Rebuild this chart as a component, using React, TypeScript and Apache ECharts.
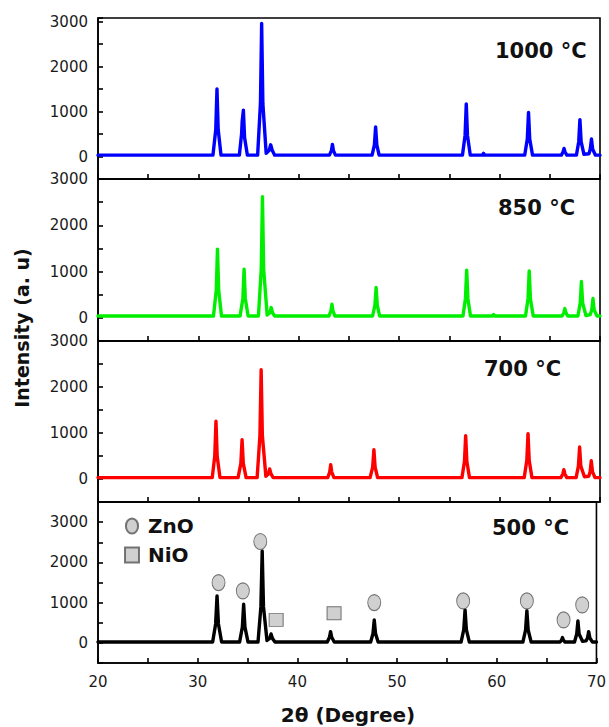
import React, { useEffect, useRef } from 'react';
import * as echarts from 'echarts';

// ---- Data ----
const sampleLabels = ['1000 °C', '850 °C', '700 °C', '500 °C'];

// 2θ (degree), intensity (a.u.)
const pattern1000: [number, number][] = [
  [20, 30], [31.45, 30], [31.73, 600], [31.85, 1500], [31.97, 600], [32.25, 30],
  [34.08, 30], [34.3, 500], [34.36, 780], [34.48, 1030], [34.6, 420], [34.88, 30],
  [35.9, 30], [36.18, 1180], [36.3, 2960], [36.42, 1180], [36.75, 70], [37.05, 140], [37.2, 260], [37.35, 140], [37.6, 30],
  [43.05, 30], [43.25, 130], [43.35, 270], [43.45, 130], [43.65, 30],
  [47.3, 30], [47.53, 260], [47.65, 660], [47.77, 260], [48.0, 30],
  [56.3, 30], [56.56, 470], [56.68, 1170], [56.8, 470], [57.08, 30],
  [58.3, 30], [58.4, 70], [58.5, 30],
  [62.5, 30], [62.76, 390], [62.88, 980], [63.0, 390], [63.28, 30],
  [66.15, 30], [66.32, 100], [66.42, 180], [66.52, 100], [66.7, 30],
  [67.65, 30], [67.88, 330], [68.0, 820], [68.12, 330], [68.4, 50], [68.9, 60], [69.03, 160], [69.15, 390], [69.27, 160], [69.55, 30], [70, 30],
];

const pattern850: [number, number][] = [
  [20, 40], [31.5, 40], [31.78, 600], [31.9, 1484], [32.02, 600], [32.3, 40],
  [34.15, 40], [34.43, 420], [34.55, 1052], [34.67, 420], [34.95, 40],
  [35.98, 40], [36.26, 1050], [36.38, 2620], [36.5, 1050], [36.85, 60], [37.12, 110], [37.25, 223], [37.38, 110], [37.6, 40],
  [43.0, 40], [43.2, 150], [43.3, 296], [43.4, 150], [43.6, 40],
  [47.35, 40], [47.58, 270], [47.7, 655], [47.82, 270], [48.05, 40],
  [56.35, 40], [56.6, 420], [56.72, 1030], [56.84, 420], [57.1, 40],
  [59.3, 40], [59.4, 70], [59.5, 40],
  [62.58, 40], [62.83, 410], [62.95, 1015], [63.07, 410], [63.35, 40],
  [66.22, 40], [66.4, 110], [66.5, 200], [66.6, 110], [66.8, 40],
  [67.8, 40], [68.03, 320], [68.15, 784], [68.27, 320], [68.6, 50], [69.02, 70], [69.18, 170], [69.3, 417], [69.42, 170], [69.7, 40], [70, 40],
];

const pattern700: [number, number][] = [
  [20, 30], [31.38, 30], [31.63, 500], [31.75, 1254], [31.87, 500], [32.15, 30],
  [33.95, 30], [34.23, 340], [34.35, 855], [34.47, 340], [34.75, 30],
  [35.85, 30], [36.13, 950], [36.25, 2376], [36.37, 950], [36.72, 60], [36.97, 110], [37.1, 217], [37.23, 110], [37.45, 30],
  [42.88, 30], [43.08, 150], [43.18, 311], [43.28, 150], [43.5, 30],
  [47.1, 30], [47.36, 260], [47.48, 637], [47.6, 260], [47.85, 30],
  [56.25, 30], [56.5, 380], [56.62, 942], [56.74, 380], [57.0, 30],
  [62.45, 30], [62.71, 400], [62.83, 985], [62.95, 400], [63.22, 30],
  [66.1, 30], [66.3, 110], [66.4, 202], [66.5, 110], [66.7, 30],
  [67.62, 30], [67.85, 280], [67.97, 696], [68.09, 280], [68.45, 50], [68.88, 60], [69.02, 160], [69.13, 398], [69.25, 160], [69.5, 30], [70, 30],
];

const pattern500: [number, number][] = [
  [20, 20], [31.5, 20], [31.8, 470], [31.94, 1166], [32.08, 470], [32.4, 20],
  [34.2, 20], [34.48, 390], [34.61, 960], [34.74, 390], [35.05, 20],
  [36.05, 20], [36.34, 900], [36.47, 2283], [36.6, 900], [36.95, 60], [37.22, 110], [37.36, 223], [37.5, 110], [37.75, 20],
  [43.0, 20], [43.22, 140], [43.33, 280], [43.44, 140], [43.7, 20],
  [47.35, 20], [47.58, 230], [47.71, 570], [47.84, 230], [48.1, 20],
  [56.42, 20], [56.69, 330], [56.82, 819], [56.95, 330], [57.25, 20],
  [62.62, 20], [62.89, 320], [63.02, 802], [63.15, 320], [63.45, 20],
  [66.35, 20], [66.5, 70], [66.59, 132], [66.68, 70], [66.85, 20],
  [67.8, 20], [68.02, 220], [68.14, 546], [68.26, 220], [68.6, 40], [68.95, 50], [69.1, 120], [69.22, 280], [69.34, 120], [69.6, 20], [70, 20],
];

// phase markers in the 500 °C panel
const znoMarkers: [number, number][] = [
  [32.09, 1498], [34.53, 1292], [36.28, 2517], [47.71, 1001], [56.63, 1043], [63.02, 1043], [66.7, 571], [68.57, 944],
];
const nioMarkers: [number, number][] = [[37.87, 571], [43.68, 738]];

// axis ranges
const xMin = 20;
const xMax = 70;
const yMin = -500;
const yMaxes = [3080, 3000, 3000, 3500];

// ---- Styles / layout ----
const patterns = [pattern1000, pattern850, pattern700, pattern500];
const colors = ['#0000ff', '#00ee00', '#ff0000', '#000000'];
const gridTops = [18, 179, 341, 502];
const gridHeights = [161, 162, 161, 161];
const labelPos: [number, number][] = [[495, 50.5], [498, 207.5], [484, 369], [492, 527.5]];
const FONT = '"DejaVu Sans", "Liberation Sans", Arial, sans-serif';
const ellipsePath = 'path://M0,8A6.5,8,0,1,1,13,8A6.5,8,0,1,1,0,8Z';

export default function App() {
  const ref = useRef<HTMLDivElement>(null);

  useEffect(() => {
    if (!ref.current) return;
    const chart = echarts.init(ref.current, undefined, { renderer: 'svg' });

    const grids = gridTops.map((top, i) => ({
      left: 98,
      width: 502,
      top,
      height: gridHeights[i],
      show: true,
      borderColor: '#000',
      borderWidth: 1.6,
      backgroundColor: 'transparent',
    }));

    const xAxes = gridTops.map((_, i) => ({
      gridIndex: i,
      type: 'value',
      min: xMin,
      max: xMax,
      interval: 5,
      axisLine: { show: true, onZero: false, lineStyle: { color: '#000', width: 1.6 } },
      axisTick: { show: true, inside: true, length: 5, lineStyle: { color: '#000', width: 1.6 } },
      axisLabel: {
        show: i === 3,
        margin: 11,
        color: '#1a1a1a',
        fontSize: 15,
        fontFamily: FONT,
        formatter: (v: number) => (v % 10 === 0 ? String(v) : ''),
      },
      splitLine: { show: false },
    }));

    const yAxes = gridTops.map((_, i) => ({
      gridIndex: i,
      type: 'value',
      min: yMin,
      max: yMaxes[i],
      interval: 500,
      axisLine: { show: true, onZero: false, lineStyle: { color: '#000', width: 1.6 } },
      axisTick: { show: true, inside: true, length: 5, lineStyle: { color: '#000', width: 1.6 } },
      axisLabel: {
        margin: 10,
        color: '#1a1a1a',
        fontSize: 15,
        fontFamily: FONT,
        formatter: (v: number) => (v >= 0 && v % 1000 === 0 ? String(v) : ''),
      },
      splitLine: { show: false },
    }));

    const lineSeries = patterns.map((data, i) => ({
      type: 'line',
      name: sampleLabels[i],
      xAxisIndex: i,
      yAxisIndex: i,
      data,
      showSymbol: false,
      symbol: 'none',
      lineStyle: { color: colors[i], width: 3.4, join: 'round', cap: 'round' },
      itemStyle: { color: colors[i] },
      z: 3,
    }));

    const markerStyle = { color: '#c4c4c4', borderColor: '#555', borderWidth: 1 };

    chart.setOption({
      animation: false,
      backgroundColor: '#fff',
      grid: grids,
      xAxis: xAxes,
      yAxis: yAxes,
      legend: {
        show: true,
        orient: 'vertical',
        left: 119,
        top: 511,
        itemWidth: 14,
        itemHeight: 15,
        itemGap: 9,
        selectedMode: false,
        textStyle: { fontFamily: FONT, fontWeight: 'bold', fontSize: 20, color: '#111', padding: [0, 0, 0, 4] },
        data: [
          { name: 'ZnO', icon: ellipsePath },
          { name: 'NiO', icon: 'rect' },
        ],
      },
      series: [
        ...lineSeries,
        {
          type: 'scatter',
          name: 'ZnO',
          xAxisIndex: 3,
          yAxisIndex: 3,
          data: znoMarkers,
          symbol: ellipsePath,
          symbolSize: [13, 16],
          itemStyle: markerStyle,
          z: 4,
        },
        {
          type: 'scatter',
          name: 'NiO',
          xAxisIndex: 3,
          yAxisIndex: 3,
          data: nioMarkers,
          symbol: 'rect',
          symbolSize: [14, 13],
          itemStyle: markerStyle,
          z: 4,
        },
      ],
      graphic: [
        ...sampleLabels.map((t, i) => ({
          type: 'text',
          x: labelPos[i][0],
          y: labelPos[i][1],
          style: {
            text: t,
            font: `bold 21px ${FONT}`,
            fill: '#111',
            textAlign: 'left',
            textVerticalAlign: 'middle',
          },
        })),
        {
          type: 'text',
          x: 22,
          y: 328,
          rotation: Math.PI / 2,
          style: {
            text: 'Intensity (a. u)',
            font: `bold 19px ${FONT}`,
            fill: '#111',
            textAlign: 'center',
            textVerticalAlign: 'middle',
          },
        },
        {
          type: 'text',
          x: 348,
          y: 715,
          style: {
            text: '2θ (Degree)',
            font: `bold 20px ${FONT}`,
            fill: '#111',
            textAlign: 'center',
            textVerticalAlign: 'middle',
          },
        },
      ],
    });

    return () => chart.dispose();
  }, []);

  return (
    <div
      ref={ref}
      style={{ position: 'fixed', left: 0, top: 0, width: 609, height: 727, background: '#fff' }}
    />
  );
}
